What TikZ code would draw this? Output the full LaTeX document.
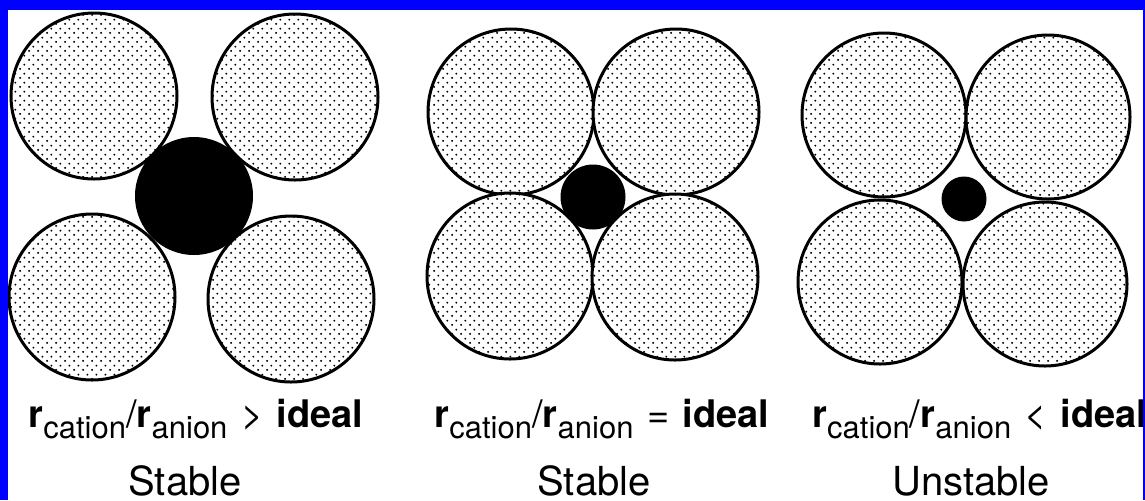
\documentclass[tikz,border=0pt]{standalone}
\usepackage{fontspec}
\setmainfont{TeX Gyre Heros}
\usetikzlibrary{patterns}
\definecolor{Frame}{RGB}{0,0,255}
\definecolor{Ink}{HTML}{000000}
\definecolor{Paper}{HTML}{FFFFFF}
\pgfdeclarepatternformonly{anion dots}{\pgfpointorigin}{\pgfpoint{4.6pt}{4.6pt}}{\pgfpoint{4.6pt}{4.6pt}}{%
  \pgfpathcircle{\pgfpoint{1.15pt}{1.15pt}}{0.55pt}%
  \pgfpathcircle{\pgfpoint{3.45pt}{3.45pt}}{0.55pt}%
  \pgfusepath{fill}}
\newcommand{\radiusratio}[1]{\textbf{r}\raisebox{-5.5pt}{\fontsize{15.5}{15}\selectfont cation}/\textbf{r}\raisebox{-5.5pt}{\fontsize{15.5}{15}\selectfont anion}\hspace{1.5pt} #1\hspace{1.5pt} \textbf{ideal}}
\tikzset{
  anion/.style={draw=Ink,line width=1.5pt,preaction={fill=Paper},preaction={pattern=anion dots,pattern color=Ink}},
  cation/.style={fill=Ink},
  ratio/.style={anchor=base,inner sep=0pt,font=\fontsize{19}{20}\selectfont},
  verdict/.style={anchor=base,inner sep=0pt,font=\fontsize{20}{22}\selectfont}
}

\begin{document}
\begin{tikzpicture}[x=0.5pt,y=-0.5pt]
\useasboundingbox (0,0) rectangle (1145,500);
\fill[Paper] (0,0) rectangle (1145,500);
% cation larger than the hole
\foreach \x/\y in {94/96,295/97,92/297,291/299}{\draw[anion] (\x,\y) circle (83);}
\fill[cation] (194,196) circle (59);
% cation just fills the hole
\foreach \x/\y in {511/112,676/112,510/276,675/277}{\draw[anion] (\x,\y) circle (83);}
\fill[cation] (593,197) circle (32.5);
% cation rattles in the hole
\foreach \x/\y in {884/115,1048/117,880/282,1045/284}{\draw[anion] (\x,\y) circle (82);}
\fill[cation] (964,199) circle (22.5);
\node[ratio] (ratio1) at (196,427) {\radiusratio{>}};
\node[ratio] (ratio2) at (602,427) {\radiusratio{=}};
\node[ratio,anchor=base west] (ratio3) at (812,427) {\radiusratio{<}};
\node[verdict] (verdict1) at (185,495) {Stable};
\node[verdict] (verdict2) at (594,495) {Stable};
\node[verdict] (verdict3) at (971,495) {Unstable};
\fill[Frame] (0,0) rectangle (1145,10);
\fill[Frame] (0,0) rectangle (8,500);
\fill[Frame] (1143,0) rectangle (1145,500);
\end{tikzpicture}
\end{document}
